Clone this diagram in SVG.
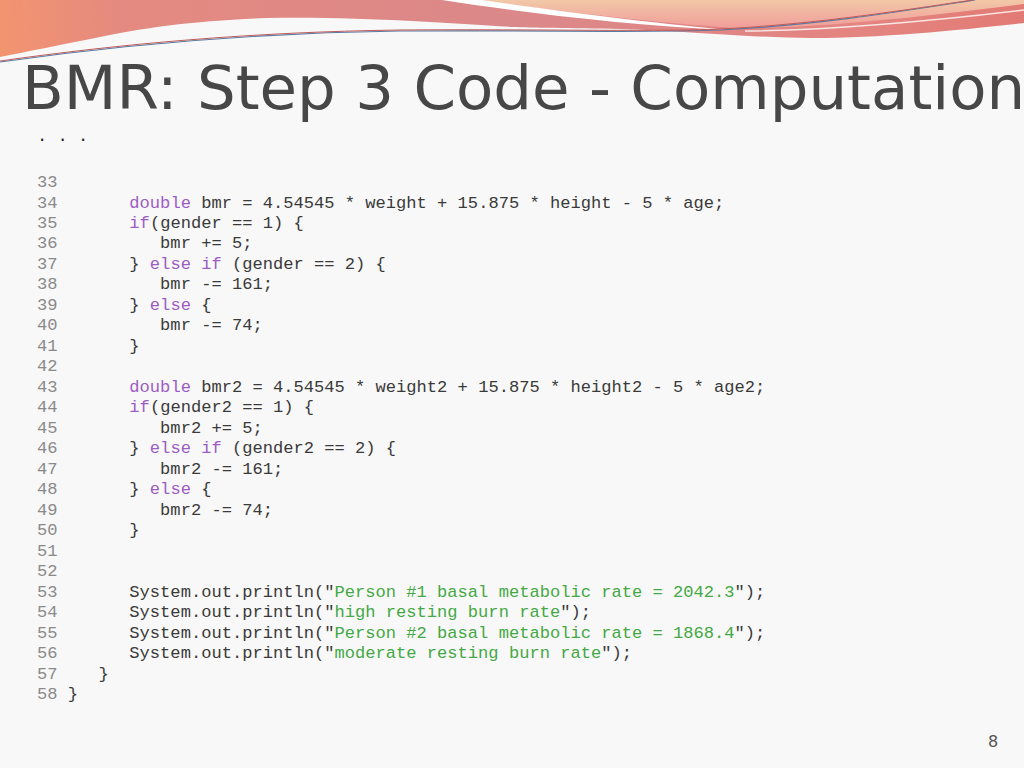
<svg xmlns="http://www.w3.org/2000/svg" width="1024" height="768" viewBox="0 0 1024 768">
  <defs>
    <linearGradient id="gBand" x1="0" y1="60" x2="1024" y2="0" gradientUnits="userSpaceOnUse">
      <stop offset="0" stop-color="#f3946f"/>
      <stop offset="0.12" stop-color="#e48a80"/>
      <stop offset="0.5" stop-color="#db888a"/>
      <stop offset="0.85" stop-color="#e48480"/>
      <stop offset="1" stop-color="#e27a74"/>
    </linearGradient>
    <linearGradient id="gPeach" x1="0" y1="0" x2="0" y2="30" gradientUnits="userSpaceOnUse">
      <stop offset="0" stop-color="#f2c8a8"/>
      <stop offset="1" stop-color="#f09a98"/>
    </linearGradient>
    <style>
      .title { font-family: "DejaVu Sans", Verdana, sans-serif; font-size: 61px; fill: #474747; }
      .code text { font-family: "Liberation Mono", "Courier New", monospace; font-size: 17.1px; fill: #3a3a3a; white-space: pre; }
      .code .ln { fill: #8a8a8a; }
      .code .kw { fill: #9c5cc4; }
      .code .str { fill: #44a844; }
      .pg { font-family: "DejaVu Sans", Verdana, sans-serif; font-size: 16px; fill: #555555; }
    </style>
  </defs>

  <rect x="0" y="0" width="1024" height="768" fill="#f8f8f8"/>

  <g id="header">
    <path d="M0,0 H1024 V23 C960,30 880,38 812,38 C760,38 700,32 620,29 C570,28 530,28 512,27 C450,23 350,16 267,18 C200,20 140,28 100,37 C60,45 25,52 0,57 Z" fill="url(#gBand)"/>
    <path d="M470,0 C540,8 640,22 735,28 C800,29 900,20 1024,4 V0 Z" fill="url(#gPeach)"/>
    <path d="M442,0 C520,12 620,25 730,30 C640,22 545,9 482,0 Z" fill="#ffffff"/>
    <path d="M745,31 C840,30 940,20 1024,10" fill="none" stroke="#ffffff" stroke-width="1.5" opacity="0.8"/>
    <path d="M0,62 C120,45 250,33 400,31 C550,30 650,33 720,30 C820,25 910,10 975,0" fill="none" stroke="#5a7aa0" stroke-width="1.2"/>
    <path d="M0,61 C120,44 250,32 400,30 C550,29 650,32 720,29 C820,24 910,9 973,0" fill="none" stroke="#c05a5a" stroke-width="1"/>
  </g>

  <text class="title" x="22" y="109">BMR: Step 3 Code - Computation</text>

  <g id="code" class="code">
    <text x="37" y="141" style="fill:#222">. . .</text>
    <text x="37" y="187"><tspan class="ln">33</tspan></text>
    <text x="37" y="207.5"><tspan class="ln">34</tspan>       <tspan class="kw">double</tspan> bmr = 4.54545 * weight + 15.875 * height - 5 * age;</text>
    <text x="37" y="228"><tspan class="ln">35</tspan>       <tspan class="kw">if</tspan>(gender == 1) {</text>
    <text x="37" y="248.4"><tspan class="ln">36</tspan>          bmr += 5;</text>
    <text x="37" y="268.9"><tspan class="ln">37</tspan>       } <tspan class="kw">else if</tspan> (gender == 2) {</text>
    <text x="37" y="289.4"><tspan class="ln">38</tspan>          bmr -= 161;</text>
    <text x="37" y="309.9"><tspan class="ln">39</tspan>       } <tspan class="kw">else</tspan> {</text>
    <text x="37" y="330.4"><tspan class="ln">40</tspan>          bmr -= 74;</text>
    <text x="37" y="350.8"><tspan class="ln">41</tspan>       }</text>
    <text x="37" y="371.3"><tspan class="ln">42</tspan></text>
    <text x="37" y="391.8"><tspan class="ln">43</tspan>       <tspan class="kw">double</tspan> bmr2 = 4.54545 * weight2 + 15.875 * height2 - 5 * age2;</text>
    <text x="37" y="412.3"><tspan class="ln">44</tspan>       <tspan class="kw">if</tspan>(gender2 == 1) {</text>
    <text x="37" y="432.8"><tspan class="ln">45</tspan>          bmr2 += 5;</text>
    <text x="37" y="453.2"><tspan class="ln">46</tspan>       } <tspan class="kw">else if</tspan> (gender2 == 2) {</text>
    <text x="37" y="473.7"><tspan class="ln">47</tspan>          bmr2 -= 161;</text>
    <text x="37" y="494.2"><tspan class="ln">48</tspan>       } <tspan class="kw">else</tspan> {</text>
    <text x="37" y="514.7"><tspan class="ln">49</tspan>          bmr2 -= 74;</text>
    <text x="37" y="535.2"><tspan class="ln">50</tspan>       }</text>
    <text x="37" y="555.6"><tspan class="ln">51</tspan></text>
    <text x="37" y="576.1"><tspan class="ln">52</tspan></text>
    <text x="37" y="596.6"><tspan class="ln">53</tspan>       System.out.println("<tspan class="str">Person #1 basal metabolic rate = 2042.3</tspan>");</text>
    <text x="37" y="617.1"><tspan class="ln">54</tspan>       System.out.println("<tspan class="str">high resting burn rate</tspan>");</text>
    <text x="37" y="637.6"><tspan class="ln">55</tspan>       System.out.println("<tspan class="str">Person #2 basal metabolic rate = 1868.4</tspan>");</text>
    <text x="37" y="658"><tspan class="ln">56</tspan>       System.out.println("<tspan class="str">moderate resting burn rate</tspan>");</text>
    <text x="37" y="678.5"><tspan class="ln">57</tspan>    }</text>
    <text x="37" y="699"><tspan class="ln">58</tspan> }</text>
  </g>

  <text class="pg" x="988" y="747">8</text>
</svg>
